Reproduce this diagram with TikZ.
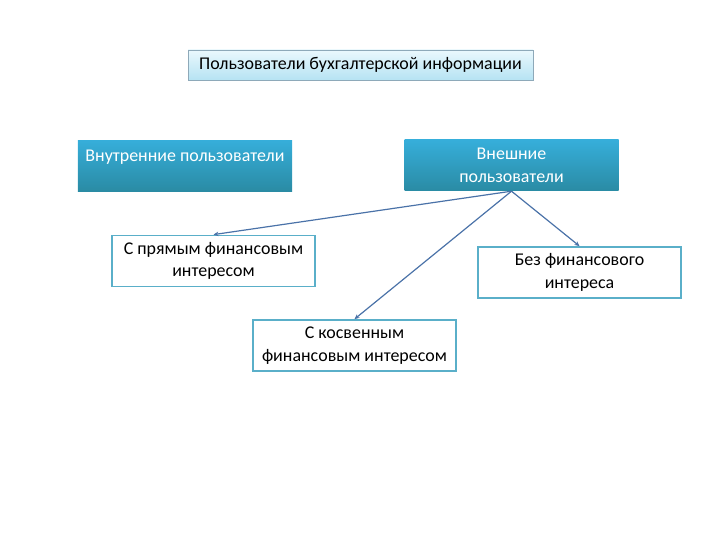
\documentclass[tikz,border=0pt]{standalone}
\usepackage{fontspec}
\setmainfont{Carlito}
\usetikzlibrary{arrows.meta}
\definecolor{toplight}{HTML}{EAF8FD}
\definecolor{topdark}{HTML}{B6E3F3}
\definecolor{topframe}{HTML}{8EA9B9}
\definecolor{grouptop}{HTML}{36AEDA}
\definecolor{groupbottom}{HTML}{2A8BA4}
\definecolor{kindframe}{HTML}{5AAFC9}
\definecolor{linkblue}{HTML}{4A72A8}

\begin{document}
\begin{tikzpicture}[x=1bp,y=-1bp,font=\fontsize{18}{22.5}\selectfont,
    headbox/.style={draw=topframe,top color=toplight,bottom color=topdark,minimum width=345bp,minimum height=30bp,inner sep=0pt},
    groupbox/.style={top color=grouptop,bottom color=groupbottom,text=white,minimum width=214bp,minimum height=51bp,inner sep=0pt,align=center},
    kindbox/.style={draw=kindframe,line width=1.8pt,fill=white,minimum width=203bp,minimum height=51bp,inner sep=0pt,align=center},
    link/.style={-{Stealth[length=5pt,width=4.5pt]},draw=linkblue,line width=1.2pt}]
    \useasboundingbox (0,0) rectangle (720,540);
    \node[headbox] (users) at (360.5,65){Пользователи бухгалтерской информации};
    \node[groupbox,anchor=north,text height=21bp,text depth=30bp] (inner) at (185,140){Внутренние пользователи};
    \node[groupbox] (outer) at (511.5,165.5){Внешние\\пользователи};
    \node[kindbox] (direct) at (213.5,261){С прямым финансовым\\интересом};
    \node[kindbox] (nointerest) at (579.5,272.5){Без финансового\\интереса};
    \node[kindbox] (indirect) at (354.5,345.5){С косвенным\\финансовым интересом};
    \draw[link] (outer.south)--(direct.north);
    \draw[link] (outer.south)--(nointerest.north);
    \draw[link] (outer.south)--(indirect.north);
\end{tikzpicture}
\end{document}
